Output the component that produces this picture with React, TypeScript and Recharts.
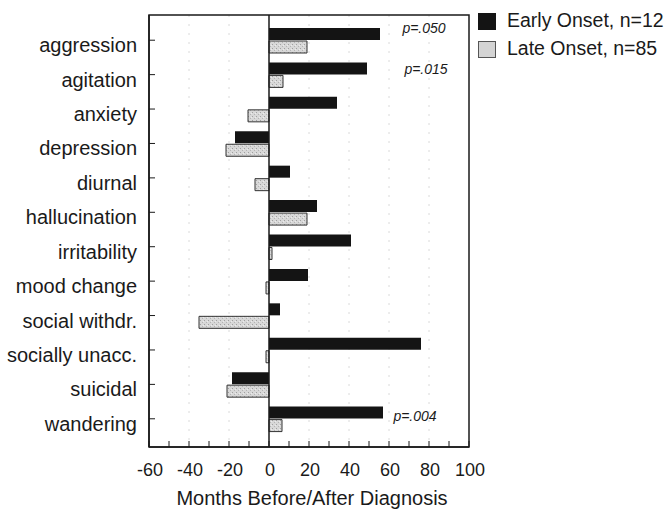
import React from 'react';
import * as R from 'recharts';
import { BarChart, Bar, XAxis, YAxis, CartesianGrid, ReferenceDot, ReferenceLine } from 'recharts';

const categories = [
  'aggression', 'agitation', 'anxiety', 'depression', 'diurnal', 'hallucination',
  'irritability', 'mood change', 'social withdr.', 'socially unacc.', 'suicidal', 'wandering',
];
const earlyOnset = [55.5, 49, 34, -17, 10.5, 24, 41, 19.5, 5.5, 76, -18.5, 57];
const lateOnset = [19, 7, -10.5, -21.5, -7, 19, 1.5, -1.5, -35, -1.5, -21, 6.5];
const seriesNames = ['Early Onset, n=12', 'Late Onset, n=85'];
const xTicks = [-60, -50, -40, -30, -20, -10, 0, 10, 20, 30, 40, 50, 60, 70, 80, 90, 100];
const gridValues = [-40, -20, 20, 40, 60, 80];
const xLabel = 'Months Before/After Diagnosis';

const data = categories.map((name, i) => ({ name, early: earlyOnset[i], late: lateOnset[i] }));

const FONT = '"Liberation Sans", Arial, Helvetica, sans-serif';

const useArea: any = (R as any).usePlotArea || (R as any).useOffset || (() => null);

const PlotBorder = () => {
  const a = useArea();
  if (!a) return null;
  const x = a.x ?? a.left;
  const y = a.y ?? a.top;
  const w = a.width ?? 672 - a.left - a.right;
  const h = a.height ?? 512 - a.top - a.bottom;
  return <rect x={x} y={y} width={w} height={h} fill="none" stroke="#1a1a1a" strokeWidth={1.5} />;
};

const YTick = (props: any) => {
  const { x, y, payload } = props;
  return (
    <text x={x} y={y + 12} textAnchor="end" fontSize={20} fill="#1a1a1a" fontFamily={FONT}>
      {payload.value}
    </text>
  );
};

const XTick = (props: any) => {
  const { x, y, payload } = props;
  const v = payload.value;
  if (v % 20 !== 0) return null;
  return (
    <text x={x + 1} y={y + 35} textAnchor="middle" fontSize={18} fill="#1a1a1a" fontFamily={FONT}>
      {String(v)}
    </text>
  );
};

const PLabel = (props: any) => {
  const { viewBox, text, dy } = props;
  return (
    <text x={viewBox.x} y={viewBox.y + dy} textAnchor="middle" fontSize={14} fontStyle="italic" fill="#1a1a1a" fontFamily={FONT}>
      {text}
    </text>
  );
};

export default function App() {
  return (
    <div style={{ position: 'absolute', left: 0, top: 0, width: 672, height: 512, background: '#fff', fontFamily: FONT }}>
      <BarChart
        width={672}
        height={512}
        data={data}
        layout="vertical"
        margin={{ top: 15, right: 203, bottom: 0, left: 0 }}
        barSize={12}
        barGap={1}
      >
        <defs>
          <pattern id="stipple" width="4" height="4" patternUnits="userSpaceOnUse">
            <rect width="4" height="4" fill="#d8d8d8" />
            <rect x="0" y="0" width="1" height="1" fill="#a0a0a0" />
            <rect x="2" y="2" width="1" height="1" fill="#b4b4b4" />
            <rect x="3" y="1" width="1" height="1" fill="#ececec" />
          </pattern>
        </defs>
        <CartesianGrid
          horizontal={false}
          verticalValues={gridValues}
          stroke="#dadada"
          strokeDasharray="2 7"
        />
        <XAxis
          type="number"
          domain={[-60, 100]}
          ticks={xTicks}
          interval={0}
          height={65}
          tickSize={-6}
          tickMargin={0}
          tick={<XTick />}
          axisLine={{ stroke: '#1a1a1a', strokeWidth: 1.5 }}
          tickLine={{ stroke: '#1a1a1a' }}
          allowDataOverflow
          label={{ value: xLabel, position: 'insideBottom', offset: 7, dx: 3, fontSize: 20, fill: '#1a1a1a', fontFamily: FONT }}
        />
        <YAxis
          type="category"
          dataKey="name"
          width={149}
          interval={0}
          tickSize={-6}
          tickMargin={18}
          tick={<YTick />}
          padding={{ top: 8, bottom: 11 }}
          axisLine={{ stroke: '#1a1a1a', strokeWidth: 1.5 }}
          tickLine={{ stroke: '#1a1a1a' }}
        />
        <ReferenceLine x={0} stroke="#1a1a1a" strokeWidth={1.5} />
        <Bar dataKey="early" name={seriesNames[0]} fill="#141414" isAnimationActive={false} />
        <Bar dataKey="late" name={seriesNames[1]} fill="url(#stipple)" stroke="#333" strokeWidth={1} isAnimationActive={false} />
        <ReferenceDot x={77.5} y="aggression" r={0} fill="none" stroke="none" label={<PLabel text="p=.050" dy={-7} />} />
        <ReferenceDot x={78.5} y="agitation" r={0} fill="none" stroke="none" label={<PLabel text="p=.015" dy={-1} />} />
        <ReferenceDot x={73} y="wandering" r={0} fill="none" stroke="none" label={<PLabel text="p=.004" dy={2} />} />
        <PlotBorder />
      </BarChart>
      <div style={{ position: 'absolute', left: 478, top: 13, width: 18, height: 17, background: '#141414' }} />
      <div style={{ position: 'absolute', left: 478, top: 41, width: 16, height: 15, background: '#d4d4d4', border: '1px solid #555' }} />
      <div style={{ position: 'absolute', left: 507, top: 7, fontSize: 19.5, lineHeight: '26px', color: '#1a1a1a', whiteSpace: 'nowrap', fontFamily: FONT }}>
        {seriesNames[0]}
      </div>
      <div style={{ position: 'absolute', left: 507, top: 35, fontSize: 19.5, lineHeight: '26px', color: '#1a1a1a', whiteSpace: 'nowrap', fontFamily: FONT }}>
        {seriesNames[1]}
      </div>
    </div>
  );
}
